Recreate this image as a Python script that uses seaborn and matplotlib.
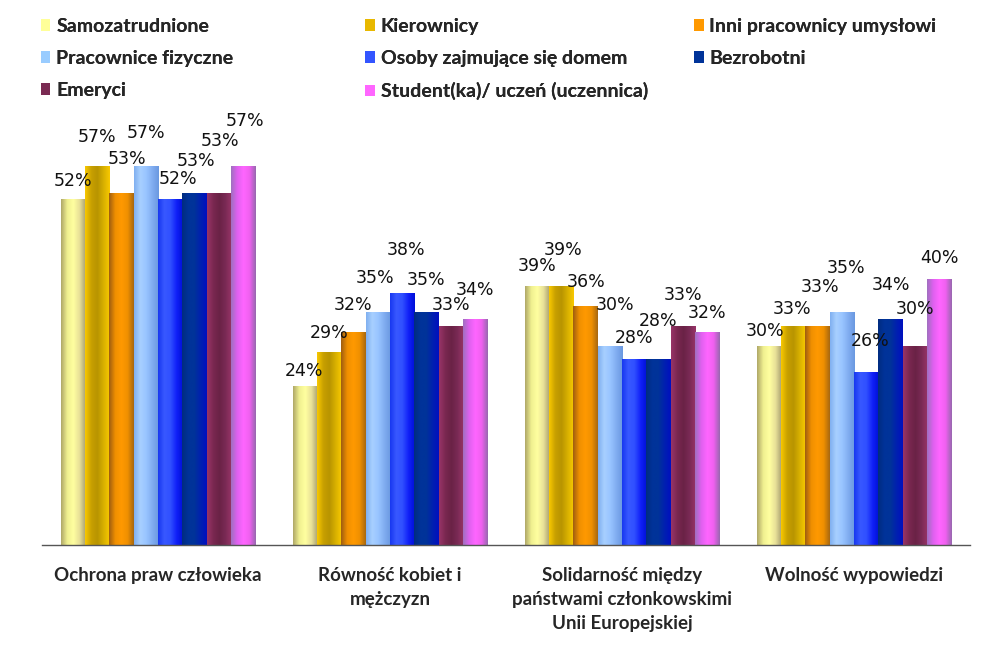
import numpy as np
import pandas as pd
import matplotlib
matplotlib.use("Agg")
import matplotlib.pyplot as plt
import seaborn as sns
from matplotlib.colors import LinearSegmentedColormap, to_rgb
from matplotlib.patches import Patch

categories = ["Ochrona praw człowieka", "Równość kobiet i\nmężczyzn",
              "Solidarność między\npaństwami członkowskimi\nUnii Europejskiej",
              "Wolność wypowiedzi"]
series = ["Samozatrudnione", "Kierownicy", "Inni pracownicy umysłowi",
          "Pracownice fizyczne", "Osoby zajmujące się domem", "Bezrobotni",
          "Emeryci", "Student(ka)/ uczeń (uczennica)"]
samozatrudnione = [52, 24, 39, 30]
kierownicy = [57, 29, 39, 33]
inni_umyslowi = [53, 32, 36, 33]
pracownice_fizyczne = [57, 35, 30, 35]
osoby_dom = [52, 38, 28, 26]
bezrobotni = [53, 35, 28, 34]
emeryci = [53, 33, 33, 30]
studenci = [57, 34, 32, 40]
values = [samozatrudnione, kierownicy, inni_umyslowi, pracownice_fizyczne,
          osoby_dom, bezrobotni, emeryci, studenci]

base_colors = ["#FFFF99", "#E8B800", "#FF9900", "#99CCFF", "#3355FF",
               "#003399", "#7A2A52", "#FF66FF"]
grad_stops = [
    ["#B0A868", "#F0F090", "#FFFFA0", "#E8E098", "#A8A070"],
    ["#F8C800", "#C8A000", "#B89400", "#D8B000", "#F8C800"],
    ["#A05E10", "#F09000", "#FF9900", "#F09000", "#A86810"],
    ["#80B0F0", "#A8D0FF", "#98C4FF", "#80ACF0", "#6A98E0"],
    ["#1838F0", "#3858FF", "#3050FF", "#1020F8", "#0010D8"],
    ["#002C80", "#003399", "#003399", "#0020B0", "#0010C0"],
    ["#983468", "#7A2850", "#6A2246", "#7A2A55", "#983468"],
    ["#A070C0", "#E060F0", "#FF66FF", "#F060F0", "#9868B0"],
]

# layout nudges of the value labels (pixels: horizontal shift, gap above bar)
# one row per series, one entry per category
label_dx = [[0, -1, 0, -4], [0, 0, 2, -1], [6, 0, 1, 3], [0, -3, 5, 4],
            [8, 4, 0, 4], [1, -1, 0, 0], [1, 0, 0, 0], [2, 0, 0, 0]]
label_gap = [[13, 9, 14, 9], [24, 14, 30, 11], [28, 22, 18, 33],
             [28, 29, 35, 39], [15, 37, 15, 26], [26, 27, 32, 29],
             [46, 15, 25, 31], [40, 24, 14, 16]]

rows = []
for s, vals in zip(series, values):
    for c, v in zip(categories, vals):
        rows.append({"cat": c, "series": s, "val": v})
df = pd.DataFrame(rows)

sns.set_style("white")
plt.rcParams["font.family"] = ["DejaVu Sans"]

fig = plt.figure(figsize=(10.08, 6.61), dpi=100)
ax = fig.add_axes([0.0417, 0.1755, 0.9206, 0.6735])

sns.barplot(data=df, x="cat", y="val", hue="series", hue_order=series,
            order=categories, palette=base_colors, width=0.84, gap=0,
            saturation=1, ax=ax, legend=False, errorbar=None)

px2pt = 0.72
for si, (container, stops) in enumerate(zip(ax.containers, grad_stops)):
    cmap = LinearSegmentedColormap.from_list("g", [to_rgb(c) for c in stops])
    grad = np.linspace(0, 1, 64).reshape(1, -1)
    for ci, p in enumerate(container.patches):
        p.set_edgecolor("none")
        x0, y0 = p.get_x(), p.get_y()
        w, h = p.get_width(), p.get_height()
        im = ax.imshow(grad, cmap=cmap, extent=[x0, x0 + w, y0, y0 + h],
                       aspect="auto", zorder=p.get_zorder() + 0.1,
                       interpolation="bilinear")
        im.set_clip_path(p)
        v = container.datavalues[ci]
        ax.annotate(f"{int(v)}%", xy=(x0 + w / 2, y0 + h),
                    xytext=(label_dx[si][ci] * px2pt,
                            (label_gap[si][ci] - 3.5) * px2pt),
                    textcoords="offset points", ha="center", va="bottom",
                    fontsize=12.5, color="#111111", zorder=5)

ax.set_xlim(-0.5, 3.5)
ax.set_ylim(0, 67)
ax.set_xlabel("")
ax.set_ylabel("")
ax.set_yticks([])
for s in ["left", "right", "top"]:
    ax.spines[s].set_visible(False)
ax.spines["bottom"].set_color("#555555")
ax.spines["bottom"].set_linewidth(1)

ax.set_xticks(range(4))
ax.set_xticklabels(categories, fontsize=13.5, fontweight="bold",
                   family=["Lato", "DejaVu Sans"], linespacing=1.5)
ax.tick_params(axis="x", which="major", length=0, pad=16)
ax.set_xticks([-0.5, 0.5, 1.5, 2.5, 3.5], minor=True)
ax.tick_params(axis="x", which="minor", length=7, color="#555555", width=1,
               direction="out")

handles = [Patch(facecolor=c, edgecolor="none") for c in base_colors]
col_idx = [[0, 3, 6], [1, 4, 7], [2, 5]]
col_x = [0.024, 0.346, 0.672]
for xi, idx in zip(col_x, col_idx):
    leg = fig.legend([handles[i] for i in idx], [series[i] for i in idx],
                     loc="upper left", bbox_to_anchor=(xi, 0.998), frameon=False,
                     prop={"family": ["Lato", "DejaVu Sans"], "weight": "bold",
                           "size": 14},
                     handlelength=0.5, handleheight=0.55, handletextpad=0.3,
                     labelspacing=0.78, borderaxespad=0.45)
    fig.add_artist(leg)

fig.savefig("out.png", dpi=100)
